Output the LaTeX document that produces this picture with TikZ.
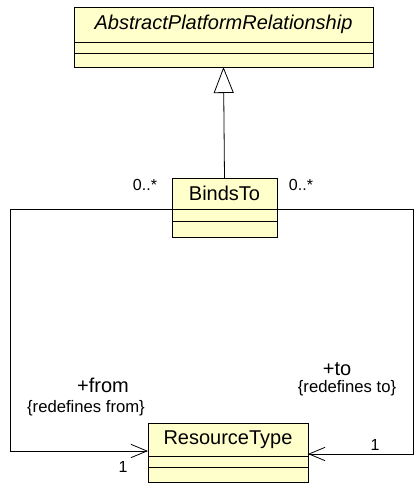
\documentclass[tikz,border=0pt]{standalone}
\usepackage{fontspec}
\setmainfont{Liberation Sans}
\usepackage{xcolor}
\usepackage{tikz}
\usetikzlibrary{positioning,arrows.meta}
\definecolor{umlfill}{RGB}{255,255,204}

\begin{document}
\begin{tikzpicture}[
  x=0.75pt,y=-0.75pt,
  font=\fontsize{15}{18}\selectfont,
  node distance=0pt,
  cls/.style={draw,fill=umlfill,inner sep=0pt,outer sep=0pt,line width=0.6pt},
  lab/.style={inner sep=0pt,font=\fontsize{12.5}{14}\selectfont},
  role/.style={inner sep=0pt,font=\fontsize{15}{17}\selectfont},
  mult/.style={inner sep=0pt,font=\fontsize{12}{14}\selectfont},
  assoc/.style={line width=0.6pt,->},
  gen/.style={line width=0.6pt,-{Triangle[open,length=19.5pt,width=15pt]}},
  >={Straight Barb[length=12pt,width=10pt]}]
\useasboundingbox (0,0) rectangle (417,483);
\node[cls,minimum width=224.25pt,minimum height=26.25pt,font=\fontsize{15}{18}\selectfont\itshape] (apr) at (223.5,24.5) {AbstractPlatformRelationship};
\node[cls,minimum width=224.25pt,minimum height=8.25pt,below=of apr] (apr-a) {};
\node[cls,minimum width=224.25pt,minimum height=10.5pt,below=of apr-a] (apr-o) {};
\node[cls,minimum width=78.75pt,minimum height=23.25pt] (binds) at (224.5,193.5) {BindsTo};
\node[cls,minimum width=78.75pt,minimum height=9pt,below=of binds] (binds-a) {};
\node[cls,minimum width=78.75pt,minimum height=12pt,below=of binds-a] (binds-o) {};
\node[cls,minimum width=120pt,minimum height=24.75pt] (res) at (228,439.5) {ResourceType};
\node[cls,minimum width=120pt,minimum height=8.25pt,below=of res] (res-a) {};
\node[cls,minimum width=120pt,minimum height=11.25pt,below=of res-a] (res-o) {};
\draw[gen] (binds.north) -- (apr-o.south);
\draw[assoc] (binds.south west) -- (10,209) -- (10,451) -- ([yshift=3.75pt]res.south west);
\draw[assoc] (binds.south east) -- (413,209) -- (413,454) -- ([yshift=1.5pt]res.south east);
\node[mult] (m-from) at (145,185) {0..*};
\node[mult] (m-to) at (301,185) {0..*};
\node[role] (r-from) at (103,385) {+from};
\node[lab] (c-from) at (86,408) {\{redefines from\}};
\node[role] (r-to) at (337,369) {+to};
\node[lab] (c-to) at (347,388) {\{redefines to\}};
\node[mult] (n-from) at (123,467) {1};
\node[mult] (n-to) at (375,445) {1};
\end{tikzpicture}
\end{document}
